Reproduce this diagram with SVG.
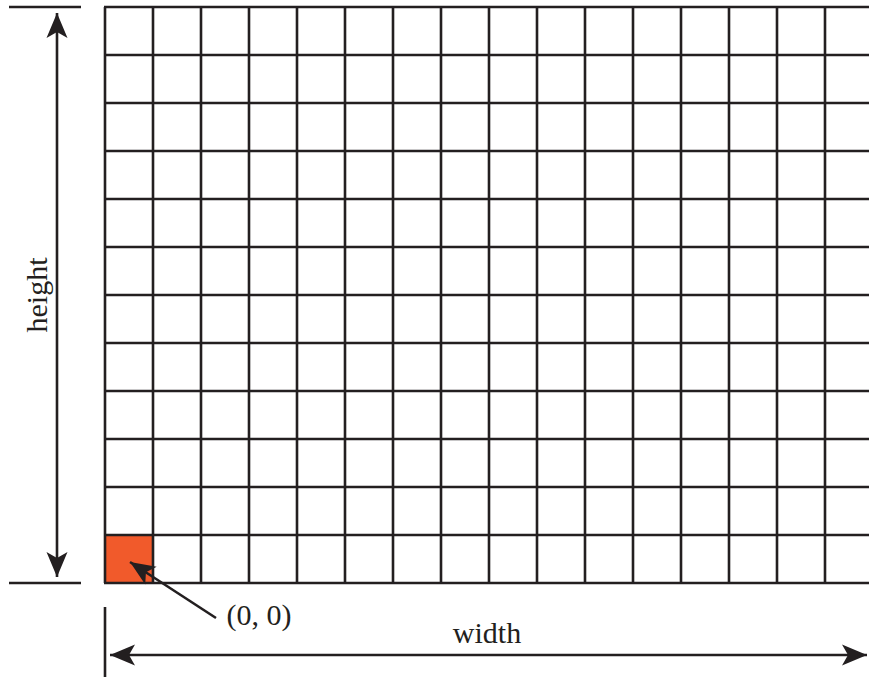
<svg xmlns="http://www.w3.org/2000/svg" width="869" height="677" viewBox="0 0 869 677">
  <style>
    .ln { stroke: #231f20; stroke-width: 2.6; fill: none; }
    .grid line { stroke: #231f20; stroke-width: 2.6; }
    .lbl { font-family: "Liberation Serif", "Times New Roman", serif; font-size: 30px; fill: #231f20; }
  </style>
  <defs>
    <marker id="ah" markerUnits="userSpaceOnUse" viewBox="-26 -12 28 24" refX="0" refY="0" markerWidth="28" markerHeight="24" orient="auto-start-reverse">
      <path d="M0,0 L-25,-10.5 L-19,0 L-25,10.5 Z" fill="#231f20"/>
    </marker>
  </defs>
  <rect width="869" height="677" fill="#ffffff"/>

  <g id="origin-cell">
    <rect x="105" y="535" width="48" height="48" fill="#f15a2b"/>
  </g>

  <g id="grid" class="grid">
    <line x1="105" y1="7" x2="105" y2="583"/>
    <line x1="153" y1="7" x2="153" y2="583"/>
    <line x1="201" y1="7" x2="201" y2="583"/>
    <line x1="249" y1="7" x2="249" y2="583"/>
    <line x1="297" y1="7" x2="297" y2="583"/>
    <line x1="345" y1="7" x2="345" y2="583"/>
    <line x1="393" y1="7" x2="393" y2="583"/>
    <line x1="441" y1="7" x2="441" y2="583"/>
    <line x1="489" y1="7" x2="489" y2="583"/>
    <line x1="537" y1="7" x2="537" y2="583"/>
    <line x1="585" y1="7" x2="585" y2="583"/>
    <line x1="633" y1="7" x2="633" y2="583"/>
    <line x1="681" y1="7" x2="681" y2="583"/>
    <line x1="729" y1="7" x2="729" y2="583"/>
    <line x1="777" y1="7" x2="777" y2="583"/>
    <line x1="825" y1="7" x2="825" y2="583"/>
    <line x1="104" y1="7" x2="869" y2="7"/>
    <line x1="104" y1="55" x2="869" y2="55"/>
    <line x1="104" y1="103" x2="869" y2="103"/>
    <line x1="104" y1="151" x2="869" y2="151"/>
    <line x1="104" y1="199" x2="869" y2="199"/>
    <line x1="104" y1="247" x2="869" y2="247"/>
    <line x1="104" y1="295" x2="869" y2="295"/>
    <line x1="104" y1="343" x2="869" y2="343"/>
    <line x1="104" y1="391" x2="869" y2="391"/>
    <line x1="104" y1="439" x2="869" y2="439"/>
    <line x1="104" y1="487" x2="869" y2="487"/>
    <line x1="104" y1="535" x2="869" y2="535"/>
    <line x1="104" y1="583" x2="869" y2="583"/>
  </g>

  <g id="connectors">
    <line class="ln" x1="9" y1="7" x2="81" y2="7"/>
    <line class="ln" x1="9" y1="583" x2="81" y2="583"/>
    <line class="ln" x1="57" y1="13" x2="57" y2="577" marker-start="url(#ah)" marker-end="url(#ah)"/>
    <line class="ln" x1="105" y1="607" x2="105" y2="677"/>
    <line class="ln" x1="110" y1="655" x2="867" y2="655" marker-start="url(#ah)" marker-end="url(#ah)"/>
    <line class="ln" x1="216" y1="618" x2="130" y2="562" marker-end="url(#ah)"/>
  </g>

  <g id="labels">
    <text class="lbl" x="259" y="625" text-anchor="middle">(0, 0)</text>
    <text class="lbl" x="487" y="643" text-anchor="middle">width</text>
    <text class="lbl" transform="translate(47,295) rotate(-90)" x="0" y="0" text-anchor="middle">height</text>
  </g>
</svg>
